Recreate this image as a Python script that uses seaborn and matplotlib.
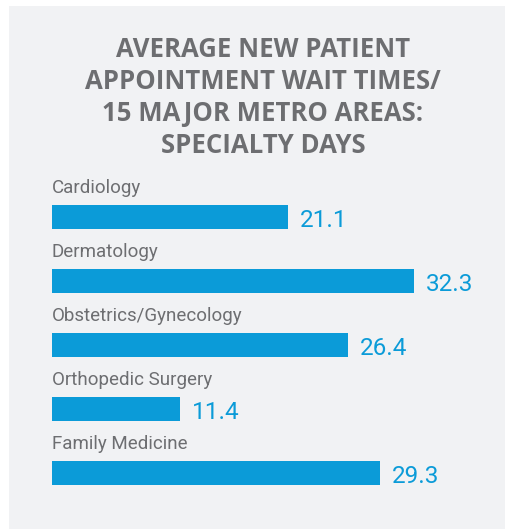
import pandas as pd
import seaborn as sns
import matplotlib.pyplot as plt
from matplotlib.patches import Rectangle

# data
specialties = ['Cardiology', 'Dermatology', 'Obstetrics/Gynecology',
               'Orthopedic Surgery', 'Family Medicine']
wait_days = [21.1, 32.3, 26.4, 11.4, 29.3]
title_lines = ['AVERAGE NEW PATIENT', 'APPOINTMENT WAIT TIMES/',
               '15 MAJOR METRO AREAS:', 'SPECIALTY DAYS']

df = pd.DataFrame({'Specialty': specialties, 'Days': wait_days})

BLUE = '#0b9bd8'
GRAY = '#6d6e71'
PANEL = '#f1f2f4'

W, H = 506, 529
fig = plt.figure(figsize=(W / 100, H / 100), dpi=100)
fig.patch.set_facecolor('white')

# gray panel behind everything
fig.patches.append(Rectangle((9 / W, 0), 1 - 9 / W, 1 - 6 / H,
                             transform=fig.transFigure,
                             facecolor=PANEL, edgecolor='none', zorder=-5))

# title, one line at a time (baselines 32 px apart)
for k, line in enumerate(title_lines):
    fig.text(263 / W, 1 - (57 + 32 * k) / H, line, ha='center', va='baseline',
             fontsize=18.5, fontweight='bold', color=GRAY, family='Open Sans')

# axes: x=0 at px 52, 11.2 px per day; rows 64 px apart
px_per_unit = 11.2
ax = fig.add_axes([52 / W, 24 / H, 450 / W, 320 / H])
ax.set_facecolor('none')
sns.barplot(data=df, x='Days', y='Specialty', orient='h', color=BLUE,
            width=0.375, saturation=1, ax=ax)
ax.set_xlim(0, 450 / px_per_unit)
ax.set_ylim(4.5, -0.5)
ax.axis('off')

half = 0.375 / 2
for i, (name, val) in enumerate(zip(specialties, wait_days)):
    ax.text(0, i - half - 0.19, name, ha='left', va='baseline',
            fontsize=13.5, color=GRAY, family='Roboto')
    ax.text(val + 12 / px_per_unit, i + half - 0.03, f'{val:.1f}', ha='left',
            va='baseline', fontsize=17.5, color=BLUE, family='Roboto')

plt.savefig('out.png', dpi=100, facecolor=fig.get_facecolor())
